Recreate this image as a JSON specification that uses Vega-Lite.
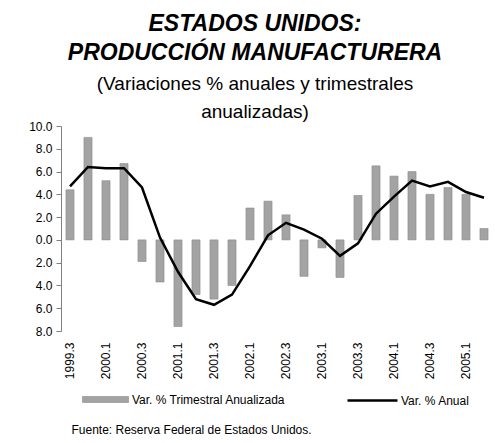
{
  "$schema": "https://vega.github.io/schema/vega-lite/v6.json",
  "width": 432,
  "height": 205,
  "padding": {"left": 28, "top": 13, "right": 0, "bottom": 0},
  "background": "white",
  "config": {
    "font": "Liberation Sans",
    "view": {"stroke": null},
    "axisY": {
      "values": [-8, -6, -4, -2, 0, 2, 4, 6, 8, 10],
      "labelExpr": "format(abs(datum.value), '.1f')",
      "labelFontSize": 12,
      "labelColor": "#000000",
      "labelPadding": 4,
      "labelOverlap": false,
      "labelBound": false,
      "labelFlush": false,
      "tickSize": 5,
      "tickColor": "#808080",
      "domainColor": "#808080",
      "grid": false,
      "title": null
    }
  },
  "title": {
    "text": ["ESTADOS UNIDOS:", "PRODUCCIÓN MANUFACTURERA"],
    "subtitle": ["(Variaciones % anuales y trimestrales", "anualizadas)"],
    "anchor": "middle",
    "frame": "group",
    "dx": -22,
    "font": "Liberation Sans",
    "fontSize": 23,
    "fontWeight": "bold",
    "fontStyle": "italic",
    "lineHeight": 29,
    "color": "#000000",
    "subtitleFont": "Liberation Sans",
    "subtitleFontSize": 19,
    "subtitleLineHeight": 28,
    "subtitleColor": "#000000",
    "subtitlePadding": 10,
    "offset": -2
  },
  "data": {
    "values": [
      {"q": "1999.3", "t": 4.4, "a": 4.7},
      {"q": "1999.4", "t": 9.0, "a": 6.4},
      {"q": "2000.1", "t": 5.2, "a": 6.3},
      {"q": "2000.2", "t": 6.7, "a": 6.3},
      {"q": "2000.3", "t": -1.9, "a": 4.6},
      {"q": "2000.4", "t": -3.7, "a": 0.2},
      {"q": "2001.1", "t": -7.6, "a": -2.8},
      {"q": "2001.2", "t": -4.8, "a": -5.2},
      {"q": "2001.3", "t": -5.2, "a": -5.7},
      {"q": "2001.4", "t": -4.0, "a": -4.8},
      {"q": "2002.1", "t": 2.8, "a": -2.3},
      {"q": "2002.2", "t": 3.4, "a": 0.4},
      {"q": "2002.3", "t": 2.2, "a": 1.5},
      {"q": "2002.4", "t": -3.2, "a": 0.9},
      {"q": "2003.1", "t": -0.7, "a": 0.1},
      {"q": "2003.2", "t": -3.3, "a": -1.4},
      {"q": "2003.3", "t": 3.9, "a": -0.3},
      {"q": "2003.4", "t": 6.5, "a": 2.3},
      {"q": "2004.1", "t": 5.6, "a": 3.8},
      {"q": "2004.2", "t": 6.0, "a": 5.2},
      {"q": "2004.3", "t": 4.0, "a": 4.7},
      {"q": "2004.4", "t": 4.6, "a": 5.1},
      {"q": "2005.1", "t": 4.0, "a": 4.2},
      {"q": "2005.2", "t": 1.0, "a": 3.7}
    ]
  },
  "encoding": {
    "x": {
      "field": "q",
      "type": "ordinal",
      "sort": null,
      "scale": {"paddingInner": 0, "paddingOuter": 0},
      "axis": {
        "values": ["1999.3", "2000.1", "2000.3", "2001.1", "2001.3", "2002.1", "2002.3", "2003.1", "2003.3", "2004.1", "2004.3", "2005.1"],
        "labelAngle": -90,
        "labelFontSize": 12,
        "labelColor": "#000000",
        "labelPadding": 11,
        "labelOverlap": false,
        "ticks": false,
        "domain": false,
        "title": "Fuente: Reserva Federal de Estados Unidos.",
        "titleFontSize": 12,
        "titleFontWeight": "normal",
        "titleColor": "#000000",
        "titleAnchor": "start",
        "titleAlign": "left",
        "titleBaseline": "middle",
        "titleX": 10,
        "titleY": 98
      }
    }
  },
  "layer": [
    {
      "mark": {"type": "bar", "width": {"band": 0.45}, "stroke": "#8a8a8a", "strokeWidth": 0.6},
      "encoding": {
        "y": {
          "field": "t",
          "type": "quantitative",
          "scale": {"domain": [-8, 10], "nice": false},
          "title": null
        },
        "fill": {
          "datum": "Var. % Trimestral Anualizada",
          "scale": {"range": ["#a3a3a3"]},
          "legend": {
            "title": null,
            "orient": "none",
            "legendX": 21,
            "legendY": 250,
            "padding": 0,
            "symbolType": "M-1,-0.13H1V0.13H-1Z",
            "symbolSize": 2116,
            "symbolStrokeColor": "#8a8a8a",
            "symbolStrokeWidth": 0.6,
            "labelFontSize": 12,
            "labelColor": "#000000",
            "labelOffset": 3
          }
        }
      }
    },
    {
      "mark": {"type": "line", "strokeWidth": 2.5},
      "encoding": {
        "y": {"field": "a", "type": "quantitative", "title": null},
        "stroke": {
          "datum": "Var. % Anual",
          "scale": {"range": ["#000000"]},
          "legend": {
            "title": null,
            "orient": "none",
            "legendX": 285,
            "legendY": 248,
            "padding": 0,
            "symbolType": "stroke",
            "symbolSize": 2500,
            "symbolStrokeWidth": 2.5,
            "labelFontSize": 12,
            "labelColor": "#000000",
            "labelOffset": 2
          }
        }
      }
    }
  ]
}
